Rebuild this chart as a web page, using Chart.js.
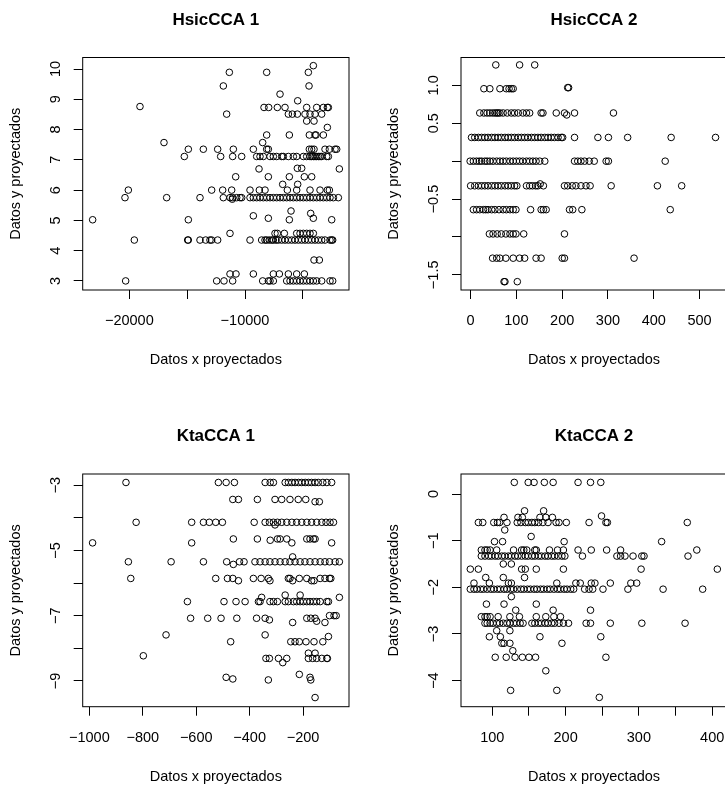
<!DOCTYPE html>
<html>
<head>
<meta charset="utf-8">
<title>CCA proyecciones</title>
<script src="https://cdn.jsdelivr.net/npm/chart.js@4.4.1/dist/chart.umd.min.js"></script>
<style>
  html, body { margin: 0; padding: 0; background: #fff; overflow: hidden; }
  body { width: 725px; height: 789px; position: relative; }
  canvas { position: absolute; }
</style>
</head>
<body>
<canvas id="hsic1" width="362" height="400" style="left:0px;top:0px"></canvas>
<canvas id="hsic2" width="380" height="400" style="left:362px;top:0px"></canvas>
<canvas id="kta1" width="362" height="375" style="left:0px;top:414px"></canvas>
<canvas id="kta2" width="380" height="375" style="left:362px;top:414px"></canvas>
<script>
/* =========================
    Datos (filas: [y, [x...]])
========================= */
const hsic1Rows = [
    [10.11, [-4092]],
    [9.89, [-11354, -8126, -4524]],
    [9.44, [-11873, -4466]],
    [9.17, [-6973]],
    [8.95, [-5446]],
    [8.76, [-19078]],
    [8.73, [-8357, -7953, -7204, -6541, -4668, -3803, -3227, -2881, -2795]],
    [8.51, [-11585, -6253, -5907, -5475, -4812, -4380, -3947, -3371]],
    [8.28, [-4668, -4034]],
    [8.07, [-2881]],
    [7.82, [-8126, -6167, -4438, -3947, -3860, -3227]],
    [7.57, [-17003, -8472]],
    [7.35, [-14899, -13602, -12363, -11008, -9279, -8126, -7982, -4438, -4236, -4034, -3083, -2708, -2218, -2074]],
    [7.11, [-15245, -12103, -11066, -10288, -8991, -8703, -8415, -7838, -7550, -7262, -6830, -6685, -6253, -5821, -5532,
            -4956, -4668, -4380, -4236, -4092, -3947, -3803, -3659, -3515, -3371, -2939, -2795]],
    [6.72, [-5475, -5100]],
    [6.70, [-8789, -1844]],
    [6.44, [-10806, -7982, -6167, -4870, -4236]],
    [6.19, [-6743, -5446]],
    [6.00, [-20086, -12882, -11930, -11152, -9567, -8760, -8270, -6340, -5532, -4380, -3515, -2881, -2708]],
    [5.75, [-20375, -16772, -13890, -11873, -11297, -11066, -10720, -10432, -10288, -9567, -9279, -8991, -8703, -8415,
            -8126, -7838, -7550, -7262, -6973, -6685, -6397, -6108, -5821, -5532, -5244, -4956, -4668, -4380, -4092,
            -3803, -3515, -3227, -2939, -2651, -2362, -1930]],
    [5.70, [-11095]],
    [5.31, [-6022]],
    [5.23, [-4322]],
    [5.15, [-9279]],
    [5.07, [-7982, -4092]],
    [5.02, [-23170, -14899, -6167, -2506]],
    [4.57, [-11297, -7406, -7204, -6599, -5532, -5244, -4956, -4668, -4380, -4092]],
    [4.35, [-19568, -14957, -14899, -13890, -13400, -13026, -12882, -12363, -9567, -8559, -8270, -8126, -7896, -7694,
            -7550, -7320, -7118, -6830, -6541, -6253, -5965, -5677, -5388, -5100, -4812, -4524, -4236, -3947, -3659,
            -3371, -3083, -2651, -2506, -2420]],
    [3.69, [-4034, -3573]],
    [3.23, [-11297, -10778, -9279, -7550, -7031, -6253, -5532, -4870]],
    [3.00, [-20317, -12449, -11815, -11066, -8472, -7982, -7838, -7550, -6397, -6108, -5821, -5532, -5244, -4956,
            -4668, -4380, -4092, -3803, -3371, -2651, -2420]]
];

const hsic2Rows = [
    [1.27, [55, 107, 140]],
    [0.97, [212, 214]],
    [0.956, [29, 42, 64, 78, 84, 89, 93]],
    [0.636, [20, 29, 36, 42, 48, 53, 57, 60, 64, 71, 80, 89, 96, 104, 114, 122, 129, 154, 158, 187, 205, 227, 312]],
    [0.61, [210]],
    [0.313, [2, 9, 17, 24, 31, 38, 46, 53, 60, 67, 75, 82, 89, 96, 104, 111, 118, 125, 133, 140, 147, 154, 162, 169,
             176, 183, 191, 198, 201, 227, 278, 301, 343, 438, 535]],
    [0.0, [-1, 6, 13, 19, 24, 31, 36, 42, 49, 57, 64, 71, 78, 86, 93, 100, 107, 114, 122, 129, 136, 143, 151, 162,
           227, 234, 241, 249, 259, 270, 296, 301, 425]],
    [-0.30, [152]],
    [-0.325, [0, 9, 17, 24, 31, 38, 46, 53, 60, 67, 75, 82, 89, 96, 101, 122, 129, 135, 142, 147, 159, 205, 212, 222,
              230, 241, 252, 261, 307, 408, 461]],
    [-0.64, [6, 13, 20, 28, 33, 38, 46, 53, 62, 71, 78, 86, 93, 99, 131, 154, 159, 165, 216, 223, 243, 436]],
    [-0.96, [41, 49, 58, 67, 77, 86, 93, 99, 116, 205]],
    [-1.28, [48, 57, 64, 77, 93, 107, 118, 143, 154, 200, 205, 357]],
    [-1.59, [73, 75, 102]]
];

const kta1Rows = [
    [-2.92, [-863, -517, -488, -457, -342, -323, -311, -267, -255, -242, -230, -217, -205, -192, -180, -168, -155,
             -143, -126, -111, -93]],
    [-3.44, [-463, -442, -371, -305, -280, -249, -218, -190]],
    [-3.51, [-155, -139]],
    [-4.14, [-825, -617, -573, -551, -527, -502, -383, -342, -326, -311, -296, -280, -261, -242, -224, -205, -186,
             -168, -149, -130, -114, -99, -86]],
    [-4.22, [-305]],
    [-4.65, [-461, -371, -296, -286, -261, -186, -174, -161, -155]],
    [-4.69, [-323]],
    [-4.77, [-988, -617, -242, -93]],
    [-5.20, [-239]],
    [-5.35, [-854, -694, -573, -486, -438, -421, -380, -361, -342, -324, -305, -286, -267, -249, -230, -211, -193,
             -174, -155, -136, -118, -101, -80, -64]],
    [-5.43, [-461]],
    [-5.86, [-845, -527, -483, -463, -386, -357, -330, -255, -249, -214, -186, -136, -118, -101, -96]],
    [-5.93, [-442, -324, -239, -168, -159]],
    [-6.37, [-267, -211]],
    [-6.44, [-355, -64]],
    [-6.57, [-633, -496, -451, -417, -367, -361, -324, -311, -296, -267, -255, -236, -224, -211, -199, -186, -174,
             -161, -149, -136, -111, -105]],
    [-7.00, [-101, -84, -76]],
    [-7.08, [-621, -557, -507, -448, -374, -342, -186, -171, -155]],
    [-7.13, [-326]],
    [-7.17, [-149]],
    [-7.21, [-239, -118]],
    [-7.59, [-713, -342]],
    [-7.64, [-105]],
    [-7.80, [-471, -246, -230, -214, -189, -159, -126]],
    [-8.15, [-180, -155]],
    [-8.23, [-798]],
    [-8.31, [-339, -326, -292, -261, -180, -164, -149, -130, -111, -109]],
    [-8.44, [-276]],
    [-8.80, [-214]],
    [-8.89, [-488, -174]],
    [-8.94, [-463]],
    [-8.97, [-330, -171]],
    [-9.51, [-155]]
];

const kta2Rows = [
    [0.25, [130, 149, 157, 171, 183, 217, 234, 248]],
    [-0.36, [144, 170]],
    [-0.47, [249]],
    [-0.50, [116, 135, 141, 165, 173, 182]],
    [-0.61, [81, 87, 102, 107, 110, 120, 134, 139, 145, 149, 154, 158, 163, 169, 176, 187, 191, 201, 232, 255, 257, 366]],
    [-0.77, [117]],
    [-0.91, [153]],
    [-1.02, [103, 114, 198, 331]],
    [-1.20, [85, 90, 93, 97, 106, 129, 140, 143, 147, 158, 160, 178, 189, 197, 217, 235, 256, 275, 379]],
    [-1.33, [85, 90, 95, 99, 104, 108, 113, 117, 122, 126, 131, 135, 140, 145, 149, 154, 158, 163, 167, 172, 176, 181,
             185, 190, 195, 199, 223, 270, 275, 281, 292, 304, 307, 367]],
    [-1.50, [115, 126]],
    [-1.61, [70, 81, 140, 145, 160, 197, 303, 407]],
    [-1.79, [91, 115, 144]],
    [-1.91, [75, 96, 122, 126, 188, 214, 220, 235, 240, 261, 289, 297]],
    [-2.04, [70, 75, 79, 84, 88, 93, 98, 102, 107, 111, 116, 120, 125, 129, 134, 139, 143, 148, 152, 157, 161, 166,
             170, 175, 179, 184, 189, 193, 198, 202, 207, 211, 226, 232, 237, 251, 285, 333, 387]],
    [-2.20, [126]],
    [-2.36, [92, 116, 160]],
    [-2.49, [132, 183, 234]],
    [-2.63, [85, 90, 93, 97, 108, 124, 137, 160, 173, 184, 193]],
    [-2.77, [90, 93, 97, 101, 106, 110, 115, 120, 124, 129, 133, 138, 142, 154, 158, 163, 167, 172, 176, 181, 185,
             191, 197, 204, 228, 234, 261, 304, 363]],
    [-2.93, [106, 124]],
    [-3.06, [96, 111, 165, 248]],
    [-3.20, [113, 116, 124, 195]],
    [-3.36, [128]],
    [-3.50, [104, 119, 131, 141, 150, 159, 255]],
    [-3.79, [173]],
    [-4.21, [125, 188]],
    [-4.36, [246]]
];

// posiciones de marcas y etiquetas (R omite las etiquetas que se solapan)
const hsic1XTicks = [-20000, -15000, -10000, -5000];
const hsic1XLabels = [-20000, -10000];
const hsic1YTicks = [3, 4, 5, 6, 7, 8, 9, 10];
const hsic1YLabels = [3, 4, 5, 6, 7, 8, 9, 10];

const hsic2XTicks = [0, 100, 200, 300, 400, 500];
const hsic2XLabels = [0, 100, 200, 300, 400, 500];
const hsic2YTicks = [-1.5, -1.0, -0.5, 0, 0.5, 1.0];
const hsic2YLabels = [-1.5, -0.5, 0.5, 1.0];

const kta1XTicks = [-1000, -800, -600, -400, -200];
const kta1XLabels = [-1000, -800, -600, -400, -200];
const kta1YTicks = [-9, -8, -7, -6, -5, -4, -3];
const kta1YLabels = [-9, -7, -5, -3];

const kta2XTicks = [100, 150, 200, 250, 300, 350, 400];
const kta2XLabels = [100, 200, 300, 400];
const kta2YTicks = [-4, -3, -2, -1, 0];
const kta2YLabels = [-4, -3, -2, -1, 0];

/* =========================
    Helpers
========================= */
Chart.defaults.font.family = "'Liberation Sans', Arial, Helvetica, sans-serif";
Chart.defaults.color = '#000';

function rowsToPoints(rows) {
    const pts = [];
    rows.forEach(([y, xs]) => xs.forEach(x => pts.push({ x: x, y: y })));
    return pts;
}

function fmt(v, dec) {
    const s = Math.abs(v).toFixed(dec);
    return (v < -1e-9 ? '\u2212' : '') + s;
}

function pick(list, dec) {
    return v => list.some(l => Math.abs(l - v) < 1e-6) ? fmt(v, dec) : '';
}

function fixedTicks(values) {
    return scale => { scale.ticks = values.map(v => ({ value: v })); };
}

// caja alrededor del area de dibujo, como en R
const boxPlugin = {
    id: 'box',
    afterDraw(chart) {
        const { ctx, chartArea: a } = chart;
        ctx.save();
        ctx.strokeStyle = '#000';
        ctx.lineWidth = 1;
        ctx.strokeRect(a.left, a.top, a.right - a.left, a.bottom - a.top);
        ctx.restore();
    }
};

const tickGrid = { drawOnChartArea: false, drawTicks: true, tickLength: 9, color: '#000', lineWidth: 1 };

function makePanel(p) {
    const ctx = document.getElementById(p.id).getContext('2d');
    return new Chart(ctx, {
        type: 'scatter',
        data: {
            datasets: [{
                data: rowsToPoints(p.rows),
                pointStyle: 'circle',
                pointRadius: 3.3,
                pointBorderWidth: 1,
                borderColor: '#000',
                backgroundColor: 'rgba(0,0,0,0)',
                clip: false
            }]
        },
        options: {
            responsive: false,
            animation: false,
            devicePixelRatio: 1,
            events: [],
            layout: { padding: { left: 0, top: 0, right: p.padRight, bottom: 0 } },
            plugins: {
                legend: { display: false },
                tooltip: { enabled: false },
                title: {
                    display: true,
                    fullSize: false,
                    text: p.title,
                    color: '#000',
                    font: { size: 17, weight: 'bold' },
                    padding: { top: p.titleTop, bottom: p.titleBottom }
                }
            },
            scales: {
                x: {
                    type: 'linear',
                    position: 'bottom',
                    min: p.xMin, max: p.xMax,
                    afterBuildTicks: fixedTicks(p.xTicks),
                    afterFit: s => { s.height = p.xHeight; },
                    grid: tickGrid,
                    border: { display: false },
                    ticks: {
                        autoSkip: false, minRotation: 0, maxRotation: 0, padding: 13.3,
                        color: '#000', font: { size: 14.5 },
                        callback: pick(p.xLabels, 0)
                    },
                    title: {
                        display: true, text: 'Datos x proyectados', color: '#000',
                        font: { size: 14.5 }, padding: { top: 0, bottom: p.xTitlePad }
                    }
                },
                y: {
                    type: 'linear',
                    position: 'left',
                    min: p.yMin, max: p.yMax,
                    afterBuildTicks: fixedTicks(p.yTicks),
                    afterFit: s => { s.width = p.yWidth; },
                    grid: tickGrid,
                    border: { display: false },
                    ticks: {
                        autoSkip: false, minRotation: 90, maxRotation: 90, crossAlign: 'center', padding: p.yTickPad,
                        color: '#000', font: { size: 14.5 },
                        callback: pick(p.yLabels, p.yDec)
                    },
                    title: {
                        display: true, text: 'Datos y proyectados', color: '#000',
                        font: { size: 14.5 }, padding: { top: p.yTitlePad, bottom: 0 }
                    }
                }
            }
        },
        plugins: [boxPlugin]
    });
}

/* =========================
    Paneles
========================= */
makePanel({
    id: 'hsic1', title: 'HsicCCA 1', rows: hsic1Rows,
    xMin: -24030, xMax: -1010, xTicks: hsic1XTicks, xLabels: hsic1XLabels,
    yMin: 2.70, yMax: 10.38, yTicks: hsic1YTicks, yLabels: hsic1YLabels, yDec: 0,
    padRight: 13, yWidth: 82.7, xHeight: 110, titleTop: 9.8, titleBottom: 27.3,
    xTitlePad: 31.3, yTickPad: 9.9, yTitlePad: 7.3
});

makePanel({
    id: 'hsic2', title: 'HsicCCA 2', rows: hsic2Rows,
    xMin: -21, xMax: 560, xTicks: hsic2XTicks, xLabels: hsic2XLabels,
    yMin: -1.70, yMax: 1.368, yTicks: hsic2YTicks, yLabels: hsic2YLabels, yDec: 1,
    padRight: 15, yWidth: 99, xHeight: 110, titleTop: 9.8, titleBottom: 27.3,
    xTitlePad: 31.3, yTickPad: 3.7, yTitlePad: 23.3
});

makePanel({
    id: 'kta1', title: 'KtaCCA 1', rows: kta1Rows,
    xMin: -1025, xMax: -28, xTicks: kta1XTicks, xLabels: kta1XLabels,
    yMin: -9.79, yMax: -2.66, yTicks: kta1YTicks, yLabels: kta1YLabels, yDec: 0,
    padRight: 13, yWidth: 82.7, xHeight: 82.3, titleTop: 12.3, titleBottom: 27.3,
    xTitlePad: 3.3, yTickPad: 9.7, yTitlePad: 7.3
});

makePanel({
    id: 'kta2', title: 'KtaCCA 2', rows: kta2Rows,
    xMin: 57.3, xMax: 420.2, xTicks: kta2XTicks, xLabels: kta2XLabels,
    yMin: -4.56, yMax: 0.43, yTicks: kta2YTicks, yLabels: kta2YLabels, yDec: 0,
    padRight: 15, yWidth: 99, xHeight: 82.3, titleTop: 12.3, titleBottom: 27.3,
    xTitlePad: 3.3, yTickPad: 9.7, yTitlePad: 23.3
});
</script>
</body>
</html>
